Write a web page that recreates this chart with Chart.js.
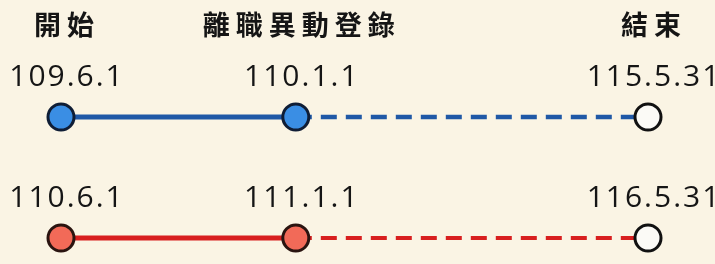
<!DOCTYPE html>
<html>
<head>
<meta charset="utf-8">
<script src="https://cdn.jsdelivr.net/npm/chart.js@4"></script>
<style>
  html, body { margin: 0; padding: 0; background: #faf4e4; }
  #wrap { width: 715px; height: 264px; }
</style>
</head>
<body>
<div id="wrap"><canvas id="timeline" width="715" height="264"></canvas></div>
<script>
// stage headers and where each stage sits on the (schematic) timeline
const stages = ['開始', '離職異動登錄', '結束'];
const stageX = [0, 2, 5];

// one row per case, dates in ROC calendar
const blueDates = ['109.6.1', '110.1.1', '115.5.31'];
const redDates = ['110.6.1', '111.1.1', '116.5.31'];
const rowY = [1, 0]; // blue row on top, red below

const toPoints = (row) => stageX.map(x => ({ x, y: row }));

// draw the header and date labels on top of the points
const labelPlugin = {
    id: 'labels',
    afterDatasetsDraw(chart) {
        const ctx = chart.ctx;
        ctx.save();
        ctx.fillStyle = '#151515';
        ctx.textAlign = 'center';
        ctx.textBaseline = 'middle';

        const top = chart.getDatasetMeta(0).data;
        ctx.font = 'bold 27px "Noto Sans CJK TC"';
        ctx.letterSpacing = '6px';
        stages.forEach((s, i) => {
            ctx.fillText(s, top[i].x + 6, 25);
        });

        ctx.font = '500 30px "Open Sans"';
        ctx.letterSpacing = '2px';
        [blueDates, redDates].forEach((dates, d) => {
            const pts = chart.getDatasetMeta(d).data;
            dates.forEach((t, i) => {
                ctx.fillText(t, pts[i].x + 6, pts[i].y - 40);
            });
        });
        ctx.restore();
    }
};

const dashAfterMiddle = (solid, dashed) => ({
    borderDash: c => c.p0DataIndex >= 1 ? [16, 9] : undefined,
    borderWidth: c => c.p0DataIndex >= 1 ? dashed : solid
});

new Chart(document.getElementById('timeline'), {
    type: 'line',
    data: {
        datasets: [
            {
                data: toPoints(rowY[0]),
                borderColor: '#1f58a6',
                borderWidth: 5,
                segment: dashAfterMiddle(5, 4.5),
                pointRadius: 13,
                pointBorderWidth: 3,
                pointBackgroundColor: ['#3a8ee4', '#3a8ee4', '#fbfaf6'],
                pointBorderColor: ['#0f1d35', '#0f1d35', '#111111'],
                clip: false
            },
            {
                data: toPoints(rowY[1]),
                borderColor: '#d81f1f',
                borderWidth: 5,
                segment: dashAfterMiddle(5, 4),
                pointRadius: 13,
                pointBorderWidth: 3,
                pointBackgroundColor: ['#f26a58', '#f26a58', '#fbfaf6'],
                pointBorderColor: ['#2a1410', '#2a1410', '#111111'],
                clip: false
            }
        ]
    },
    options: {
        responsive: false,
        animation: false,
        layout: { padding: { left: 61, right: 67, top: 117, bottom: 26 } },
        scales: {
            x: { type: 'linear', min: 0, max: 5, display: false },
            y: { type: 'linear', min: 0, max: 1, display: false }
        },
        plugins: {
            legend: { display: false },
            tooltip: { enabled: false }
        }
    },
    plugins: [labelPlugin]
});
</script>
</body>
</html>
